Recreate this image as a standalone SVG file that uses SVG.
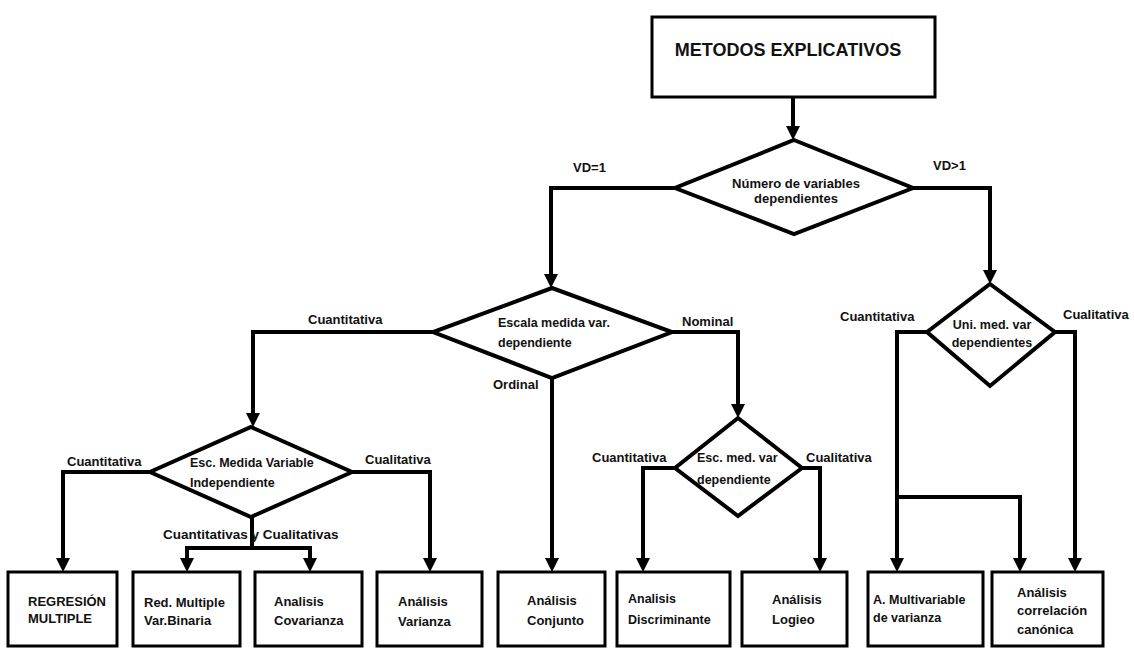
<svg xmlns="http://www.w3.org/2000/svg" width="1134" height="648" viewBox="0 0 1134 648">
  <style>
    .box { fill: #fff; stroke: #000; stroke-width: 3; }
    .dia { fill: #fff; stroke: #000; stroke-width: 4; stroke-linejoin: miter; }
    .wire { fill: none; stroke: #000; stroke-width: 4; }
    .arr { fill: none; stroke: #000; stroke-width: 4; marker-end: url(#head); }
    text { font-family: "Liberation Sans", Arial, sans-serif; font-weight: bold; fill: #111; font-size: 13px; }
    .title { font-size: 18px; }
    .sm { font-size: 12.5px; }
    .mid { text-anchor: middle; }
  </style>
  <defs>
    <marker id="head" markerUnits="userSpaceOnUse" markerWidth="16" markerHeight="16" refX="2" refY="7" orient="auto">
      <path d="M0,0 L14,7 L0,14 z" fill="#000"/>
    </marker>
  </defs>

  <rect width="1134" height="648" fill="#fff"/>

  <!-- connectors -->
  <g id="connectors">
    <path class="arr" d="M793,97 V128"/>
    <path class="arr" d="M675,188 H551 V276"/>
    <path class="arr" d="M913,188 H990 V272"/>
    <path class="arr" d="M433,332 H253 V415"/>
    <path class="arr" d="M672,332 H738 V406"/>
    <path class="arr" d="M552,378 V560"/>
    <path class="arr" d="M150,472 H63 V560"/>
    <path class="arr" d="M352,472 H430 V560"/>
    <path class="wire" d="M252,517 V548"/>
    <path class="arr" d="M252,548 H187 V560"/>
    <path class="arr" d="M252,548 H310 V560"/>
    <path class="arr" d="M675,468 H643 V560"/>
    <path class="arr" d="M802,468 H820 V560"/>
    <path class="arr" d="M927,332 H897 V560"/>
    <path class="arr" d="M1055,332 H1075 V560"/>
    <path class="arr" d="M897,497 H1020 V560"/>
  </g>

  <!-- connector labels -->
  <g id="labels">
    <text x="573" y="172">VD=1</text>
    <text x="933" y="170">VD&gt;1</text>
    <text x="308" y="324">Cuantitativa</text>
    <text x="682" y="326">Nominal</text>
    <text x="493" y="389">Ordinal</text>
    <text x="67" y="466">Cuantitativa</text>
    <text x="365" y="464">Cualitativa</text>
    <text x="163" y="539" style="font-size:13.5px">Cuantitativas y Cualitativas</text>
    <text x="592" y="462">Cuantitativa</text>
    <text x="806" y="462">Cualitativa</text>
    <text x="840" y="321">Cuantitativa</text>
    <text x="1063" y="319">Cualitativa</text>
  </g>

  <g id="metodos">
    <rect class="box" x="652" y="17" width="283" height="80"/>
    <text class="title mid" x="788" y="56">METODOS EXPLICATIVOS</text>
  </g>

  <g id="num-variables">
    <polygon class="dia" points="794,140 913,188 794,234 675,188"/>
    <text class="mid" x="796" y="188">Número de variables</text>
    <text class="mid" x="796" y="203">dependientes</text>
  </g>

  <g id="escala-dependiente">
    <polygon class="dia" points="552,288 672,332 552,378 433,332"/>
    <text class="sm" x="498" y="327">Escala medida var.</text>
    <text class="sm" x="498" y="347">dependiente</text>
  </g>

  <g id="escala-independiente">
    <polygon class="dia" points="251,427 352,472 251,517 150,472"/>
    <text class="sm" x="190" y="467">Esc. Medida Variable</text>
    <text class="sm" x="190" y="487">Independiente</text>
  </g>

  <g id="escala-med-dependiente">
    <polygon class="dia" points="738,418 802,468 738,516 675,468"/>
    <text class="sm" x="697" y="462">Esc. med. var</text>
    <text class="sm" x="697" y="484">dependiente</text>
  </g>

  <g id="uni-med">
    <polygon class="dia" points="990,284 1055,332 990,386 927,332"/>
    <text class="mid sm" x="992" y="329">Uni. med. var</text>
    <text class="mid sm" x="992" y="347">dependientes</text>
  </g>

  <g id="regresion">
    <rect class="box" x="8" y="572" width="109" height="74"/>
    <text x="28" y="606">REGRESIÓN</text>
    <text x="28" y="623">MULTIPLE</text>
  </g>
  <g id="red-multiple">
    <rect class="box" x="133" y="572" width="107" height="74"/>
    <text x="144" y="607">Red. Multiple</text>
    <text x="144" y="625">Var.Binaria</text>
  </g>
  <g id="covarianza">
    <rect class="box" x="255" y="572" width="107" height="74"/>
    <text x="274" y="606">Analisis</text>
    <text x="274" y="625">Covarianza</text>
  </g>
  <g id="varianza">
    <rect class="box" x="377" y="572" width="105" height="74"/>
    <text x="398" y="606">Análisis</text>
    <text x="398" y="626">Varianza</text>
  </g>
  <g id="conjunto">
    <rect class="box" x="498" y="572" width="107" height="74"/>
    <text x="527" y="605">Análisis</text>
    <text x="527" y="625">Conjunto</text>
  </g>
  <g id="discriminante">
    <rect class="box" x="617" y="572" width="113" height="74"/>
    <text class="sm" x="628" y="603">Analisis</text>
    <text class="sm" x="628" y="624">Discriminante</text>
  </g>
  <g id="logit">
    <rect class="box" x="742" y="572" width="105" height="74"/>
    <text x="772" y="604">Análisis</text>
    <text x="772" y="624">Logieo</text>
  </g>
  <g id="multivariable">
    <rect class="box" x="868" y="572" width="115" height="74"/>
    <text class="sm" x="873" y="604">A. Multivariable</text>
    <text class="sm" x="873" y="622">de varianza</text>
  </g>
  <g id="correlacion">
    <rect class="box" x="992" y="572" width="111" height="74"/>
    <text x="1017" y="597">Análisis</text>
    <text x="1017" y="615">correlación</text>
    <text x="1017" y="634">canónica</text>
  </g>
</svg>
